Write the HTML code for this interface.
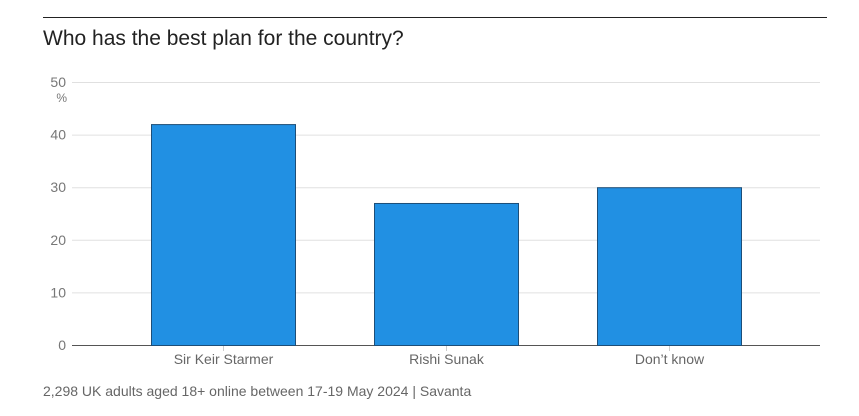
<!DOCTYPE html>
<html><head><meta charset="utf-8"><style>
body{margin:0;background:#fff;width:859px;height:411px;overflow:hidden;font-family:"Liberation Sans",sans-serif}
</style></head><body>
<svg width="859" height="411">
<line x1="43" y1="17.5" x2="827" y2="17.5" stroke="#222" stroke-width="1"/>
<text x="43" y="45" font-size="21" fill="#222">Who has the best plan for the country?</text>
<g id="grid"></g>
<g id="bars"></g>
<g id="xlabels"></g>
<text x="67" y="102" font-size="12" fill="#777" text-anchor="end">%</text>
<text x="43" y="396" font-size="14" fill="#666">2,298 UK adults aged 18+ online between 17-19 May 2024  | Savanta</text>
</svg>
<script>
const categories=["Sir Keir Starmer","Rishi Sunak","Don’t know"];
const values=[42,27,30];
const yTicks=[0,10,20,30,40,50];
const NS="http://www.w3.org/2000/svg";
const y0=345,y1=82,yMax=50,xL=72,xR=820;
function yScale(v){return y0-(v/yMax)*(y0-y1);}
function xCenter(i){return 223.5+i*223;}
const bw=145;
const grid=document.getElementById('grid');
yTicks.forEach(t=>{
 const l=document.createElementNS(NS,'line');
 
 
 l.setAttribute('x1',xL);l.setAttribute('x2',xR);
 l.setAttribute('y1',yScale(t)+0.5);l.setAttribute('y2',yScale(t)+0.5);
 l.setAttribute('stroke',t===0?'#555':'#e0e0e0');l.setAttribute('stroke-width',1);
 grid.appendChild(l);
 const tx=document.createElementNS(NS,'text');
 
 
 tx.setAttribute('x',66);tx.setAttribute('y',yScale(t)+5);
 tx.setAttribute('text-anchor','end');tx.setAttribute('font-size','14');tx.setAttribute('fill','#777');
 tx.textContent=t;grid.appendChild(tx);
});
const bars=document.getElementById('bars'),xl=document.getElementById('xlabels');
categories.forEach((c,i)=>{
 const r=document.createElementNS(NS,'rect');
 
 
 const y=yScale(values[i]);
 r.setAttribute('x',xCenter(i)-bw/2+0.5);r.setAttribute('y',y+0.5);
 r.setAttribute('width',bw-1);r.setAttribute('height',y0-y);
 r.setAttribute('fill','#2190e3');r.setAttribute('stroke','#1d4e78');r.setAttribute('stroke-width',1);
 bars.appendChild(r);
 const tk=document.createElementNS(NS,'line');
 
 
 tk.setAttribute('x1',xCenter(i));tk.setAttribute('x2',xCenter(i));
 tk.setAttribute('y1',346);tk.setAttribute('y2',351);tk.setAttribute('stroke','#ccc');
 xl.appendChild(tk);
 const t=document.createElementNS(NS,'text');
 
 
 t.setAttribute('x',xCenter(i));t.setAttribute('y',364);
 t.setAttribute('text-anchor','middle');t.setAttribute('font-size','14');t.setAttribute('fill','#666');
 t.textContent=c;xl.appendChild(t);
});
</script>
</body></html>
